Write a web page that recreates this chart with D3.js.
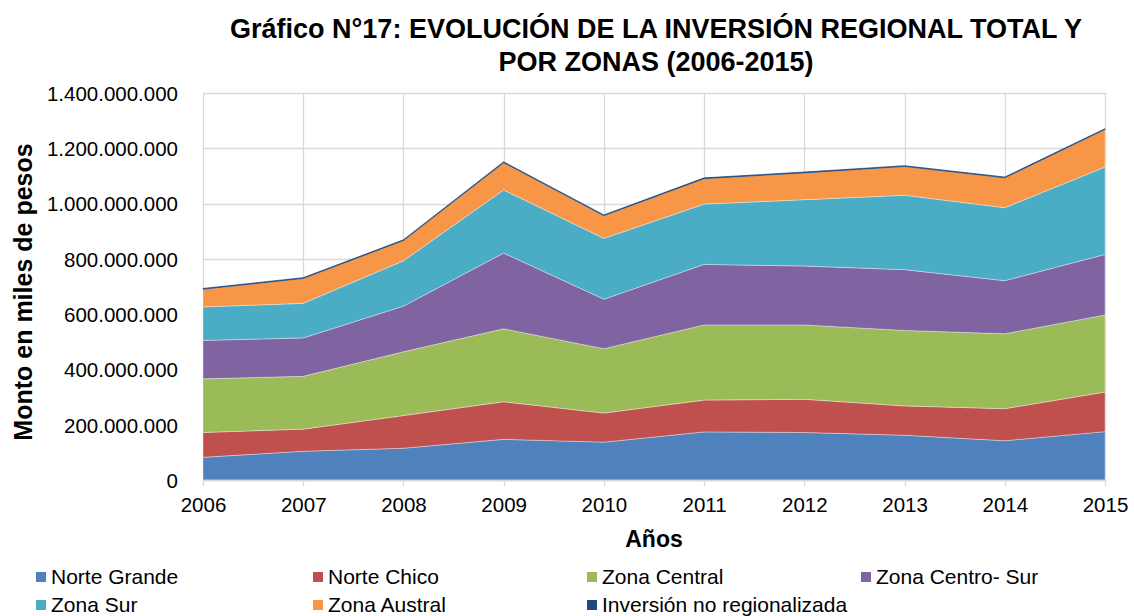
<!DOCTYPE html>
<html>
<head>
<meta charset="utf-8">
<script src="https://cdn.jsdelivr.net/npm/d3@7"></script>
<style>
  body { margin: 0; background: #fff; }
  text { font-family: "Liberation Sans", Arial, sans-serif; fill: #000; }
</style>
</head>
<body>
<svg id="chart" width="1134" height="616"></svg>
<script>
// ---- data (miles de pesos) ----
var years = [2006, 2007, 2008, 2009, 2010, 2011, 2012, 2013, 2014, 2015];
var norteGrande   = [82e6, 104e6, 115e6, 147e6, 137e6, 174e6, 172e6, 162e6, 142e6, 175e6];
var norteChico    = [90e6, 80e6, 118e6, 136e6, 105e6, 115e6, 120e6, 106e6, 116e6, 143e6];
var zonaCentral   = [194e6, 191e6, 231e6, 264e6, 233e6, 272e6, 269e6, 273e6, 271e6, 279e6];
var zonaCentroSur = [139e6, 139e6, 165e6, 274e6, 179e6, 219e6, 213e6, 220e6, 192e6, 219e6];
var zonaSur       = [121e6, 125e6, 164e6, 228e6, 220e6, 218e6, 240e6, 269e6, 264e6, 316e6];
var zonaAustral   = [64e6, 90e6, 73e6, 99e6, 82e6, 92e6, 97e6, 104e6, 108e6, 136e6];
var noRegional    = [3e6, 3e6, 3e6, 3e6, 3e6, 3e6, 3e6, 3e6, 3e6, 3e6];
var yTicks = [0, 200e6, 400e6, 600e6, 800e6, 1000e6, 1200e6, 1400e6];

var SERIES = [
  {name: "Norte Grande", values: norteGrande, color: "#4f81bd"},
  {name: "Norte Chico", values: norteChico, color: "#c0504d"},
  {name: "Zona Central", values: zonaCentral, color: "#9bbb59"},
  {name: "Zona Centro- Sur", values: zonaCentroSur, color: "#8064a2"},
  {name: "Zona Sur", values: zonaSur, color: "#4bacc6"},
  {name: "Zona Austral", values: zonaAustral, color: "#f79646"},
  {name: "Inversión no regionalizada", values: noRegional, color: "#1f497d"}
];

var FONT = "Liberation Sans, Arial, sans-serif";
var svg = d3.select("#chart");
var PLOT_LEFT = 203, PLOT_RIGHT = 1105, PLOT_TOP = 93, PLOT_BOTTOM = 480;

var x = d3.scaleLinear().domain([2006, 2015]).range([PLOT_LEFT, PLOT_RIGHT]);
var y = d3.scaleLinear().domain([0, 1400e6]).range([PLOT_BOTTOM, PLOT_TOP]);

// table for the stack
var table = years.map(function(yr, i){
  var row = {year: yr};
  SERIES.forEach(function(s){ row[s.name] = s.values[i]; });
  return row;
});
var layers = d3.stack().keys(SERIES.map(function(s){ return s.name; }))(table);

// ---- grid ----
var gGrid = svg.append("g").attr("id", "grid");
yTicks.forEach(function(t){
  gGrid.append("line")
    .attr("x1", PLOT_LEFT).attr("x2", PLOT_RIGHT)
    .attr("y1", Math.round(y(t)) + 0.5).attr("y2", Math.round(y(t)) + 0.5)
    .style("stroke", "#d9d9d9").style("stroke-width", 1.3);
});
years.forEach(function(yr){
  gGrid.append("line")
    .attr("x1", Math.round(x(yr)) + 0.5).attr("x2", Math.round(x(yr)) + 0.5)
    .attr("y1", PLOT_TOP).attr("y2", PLOT_BOTTOM + 6)
    .style("stroke", "#d9d9d9").style("stroke-width", 1.3);
});

// ---- areas ----
var area = d3.area()
  .x(function(d){ return x(d.data.year); })
  .y0(function(d){ return y(d[0]); })
  .y1(function(d){ return y(d[1]); });

svg.append("g").attr("id", "areas")
  .selectAll("path").data(layers).enter().append("path")
  .attr("d", area)
  .style("fill", function(d, i){ return SERIES[i].color; })
  .style("stroke", function(d, i){ return i == SERIES.length - 1 ? SERIES[i].color : "rgba(255,255,255,0.5)"; })
  .style("stroke-width", 0.7);

// ---- axes ----
var gY = svg.append("g").attr("transform", "translate(" + PLOT_LEFT + ",0)")
  .call(d3.axisLeft(y).tickValues(yTicks).tickSize(0).tickPadding(25)
    .tickFormat(function(d){ return d3.format(",")(d).replace(/,/g, "."); }));
gY.select(".domain").remove();
gY.selectAll("text").style("font-size", "20.5px").style("font-family", FONT).attr("dy", "0.36em");

var gX = svg.append("g").attr("transform", "translate(0," + PLOT_BOTTOM + ")")
  .call(d3.axisBottom(x).tickValues(years).tickSize(0).tickPadding(17).tickFormat(d3.format("d")));
gX.select(".domain").style("stroke", "#d9d9d9").style("stroke-width", 1.3);
gX.selectAll("text").style("font-size", "20.5px").style("font-family", FONT).attr("dy", "0.71em");

// ---- titles ----
svg.append("text").text("Gráfico N°17: EVOLUCIÓN DE LA INVERSIÓN REGIONAL TOTAL Y")
  .attr("x", 656).attr("y", 38).style("text-anchor", "middle")
  .style("font-size", "27px").style("font-weight", "bold");
svg.append("text").text("POR ZONAS (2006-2015)")
  .attr("x", 656).attr("y", 71).style("text-anchor", "middle")
  .style("font-size", "27px").style("font-weight", "bold");

svg.append("text").text("Años")
  .attr("x", 654).attr("y", 547).style("text-anchor", "middle")
  .style("font-size", "23px").style("font-weight", "bold");

svg.append("text").text("Monto en miles de pesos")
  .attr("transform", "translate(32,292) rotate(-90)").style("text-anchor", "middle")
  .style("font-size", "25px").style("font-weight", "bold");

// ---- legend ----
var legendX = [36, 313, 587, 861];
var legendY = [584, 612];
var gLegend = svg.append("g").attr("id", "legend");
SERIES.forEach(function(s, i){
  var lx = legendX[i % 4], ly = legendY[Math.floor(i / 4)];
  gLegend.append("rect").attr("x", lx).attr("y", ly - 12).attr("width", 10).attr("height", 10)
    .style("fill", s.color);
  gLegend.append("text").text(s.name).attr("x", lx + 15).attr("y", ly)
    .style("font-size", "21px");
});
</script>
</body>
</html>
